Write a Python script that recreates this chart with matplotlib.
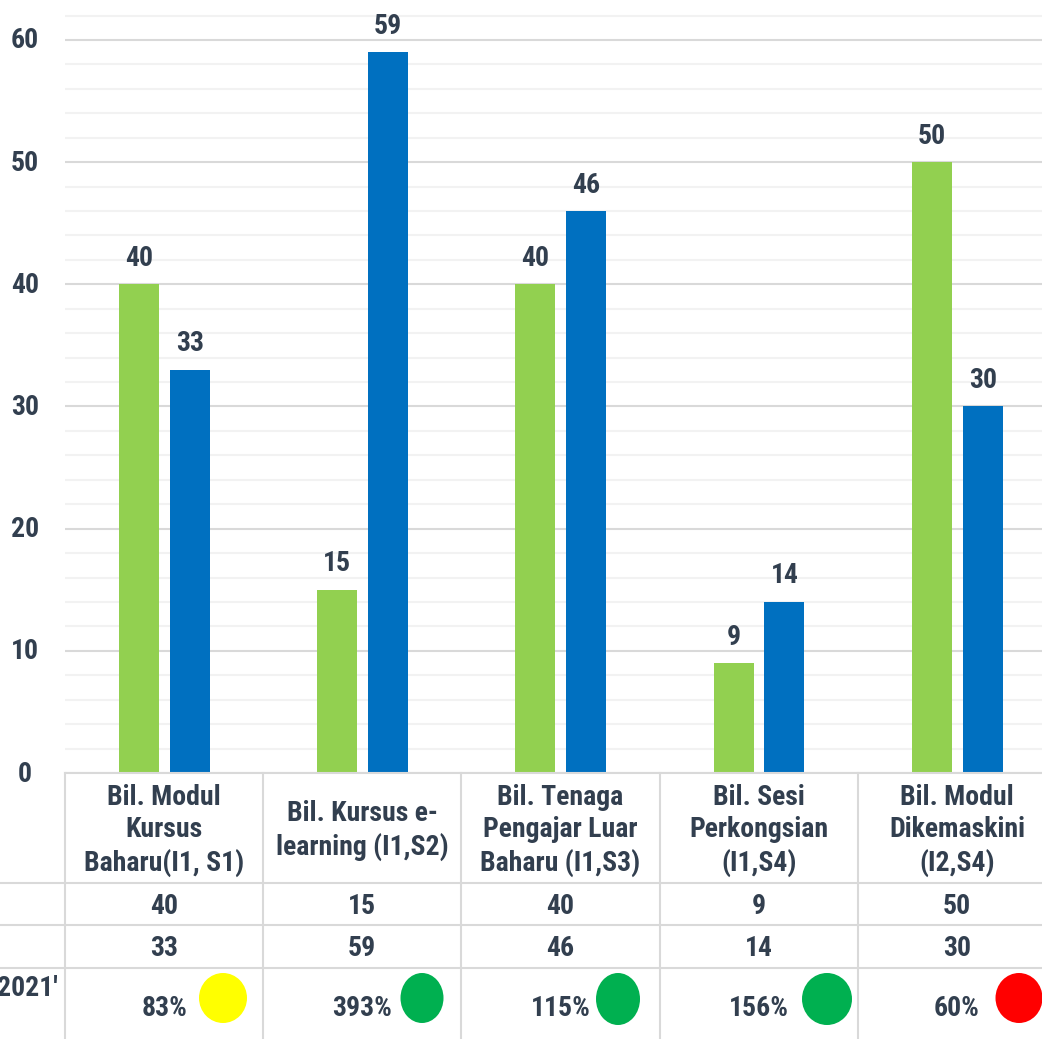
"""Target vs achievement bars with a data table and status dots underneath."""

import matplotlib
matplotlib.use("Agg")
from matplotlib.patches import Ellipse
import matplotlib.pyplot as plt
import numpy as np

categories = [
    "Bil. Modul\nKursus\nBaharu(I1, S1)",
    "Bil. Kursus e-\nlearning (I1,S2)",
    "Bil. Tenaga\nPengajar Luar\nBaharu (I1,S3)",
    "Bil. Sesi\nPerkongsian\n(I1,S4)",
    "Bil. Modul\nDikemaskini\n(I2,S4)",
]
target = [40, 15, 40, 9, 50]
actual = [33, 59, 46, 14, 30]
percent = ["83%", "393%", "115%", "156%", "60%"]
status = ["#FFFF00", "#00B050", "#00B050", "#00B050", "#FF0000"]
row_label = "2021'"
y_ticks = [0, 10, 20, 30, 40, 50, 60]

W, H = 1042, 1039
TEXT = "#323F4F"
X0, Y0 = 65, 773  # plot origin in pixels
CELL = 198.2
PX_PER_UNIT = 12.217
FS = 20

plt.rcParams["font.family"] = ["Roboto Condensed", "Liberation Sans", "DejaVu Sans"]
plt.rcParams["font.weight"] = "bold"

fig = plt.figure(figsize=(W / 100, H / 100), dpi=100)
ax = fig.add_axes([X0 / W, 1 - Y0 / H, 1 - X0 / W, Y0 / H])
ax.set_xlim(-0.5, -0.5 + (W - X0) / CELL)
ax.set_ylim(0, Y0 / PX_PER_UNIT)

x = np.arange(len(categories))
width = 0.202
bars1 = ax.bar(x - 0.127, target, width, color="#92D050", zorder=3)
bars2 = ax.bar(x + 0.13, actual, width, color="#0070C0", zorder=3)
for bars in (bars1, bars2):
    ax.bar_label(bars, padding=9, fontsize=FS, color=TEXT)

ax.set_yticks(y_ticks)
ax.set_yticks(np.arange(0, 64, 2), minor=True)
ax.grid(axis="y", which="major", color="#D9D9D9", lw=1.5, zorder=0)
ax.grid(axis="y", which="minor", color="#F2F2F2", lw=1.5, zorder=0)
ax.tick_params(which="both", length=0, labelbottom=False, labelleft=False)
ax.spines[:].set_visible(False)

# table and tick labels go on an overlay in pixel coordinates
ov = fig.add_axes([0, 0, 1, 1], zorder=5)
ov.set_xlim(0, W)
ov.set_ylim(H, 0)
ov.axis("off")
ov.patch.set_alpha(0)

for t in y_ticks:
    ov.text(25, Y0 - t * PX_PER_UNIT + 1, str(t), ha="center", va="center", fontsize=FS, color=TEXT)

line = dict(color="#D9D9D9", lw=1.5)
ov.plot([X0, W], [773, 773], **line)
for y in (883, 925, 968):
    ov.plot([0, W], [y, y], **line)
for i in range(5):
    ov.plot([X0 + i * CELL] * 2, [773, H], **line)

dot_x = [223, 422, 618, 827, 1019]
dot_y = [998, 998, 999, 999, 998]
dot_w = [48, 43, 44, 50, 47]
dot_h = [50, 50, 52, 52, 50]
for i, cat in enumerate(categories):
    cx = X0 + (i + 0.5) * CELL
    ov.text(cx, 830.5, cat, ha="center", va="center", fontsize=FS, color=TEXT, linespacing=1.25)
    ov.text(cx, 907, str(target[i]), ha="center", va="center", fontsize=FS, color=TEXT)
    ov.text(cx, 949, str(actual[i]), ha="center", va="center", fontsize=FS, color=TEXT)
    ov.text(cx, 1008, percent[i], ha="center", va="center", fontsize=FS, color=TEXT)
    ov.add_patch(Ellipse((dot_x[i], dot_y[i]), dot_w[i], dot_h[i], color=status[i], lw=0))
ov.text(58, 988, row_label, ha="right", va="center", fontsize=FS, color=TEXT)

fig.savefig("out.png", dpi=100)
